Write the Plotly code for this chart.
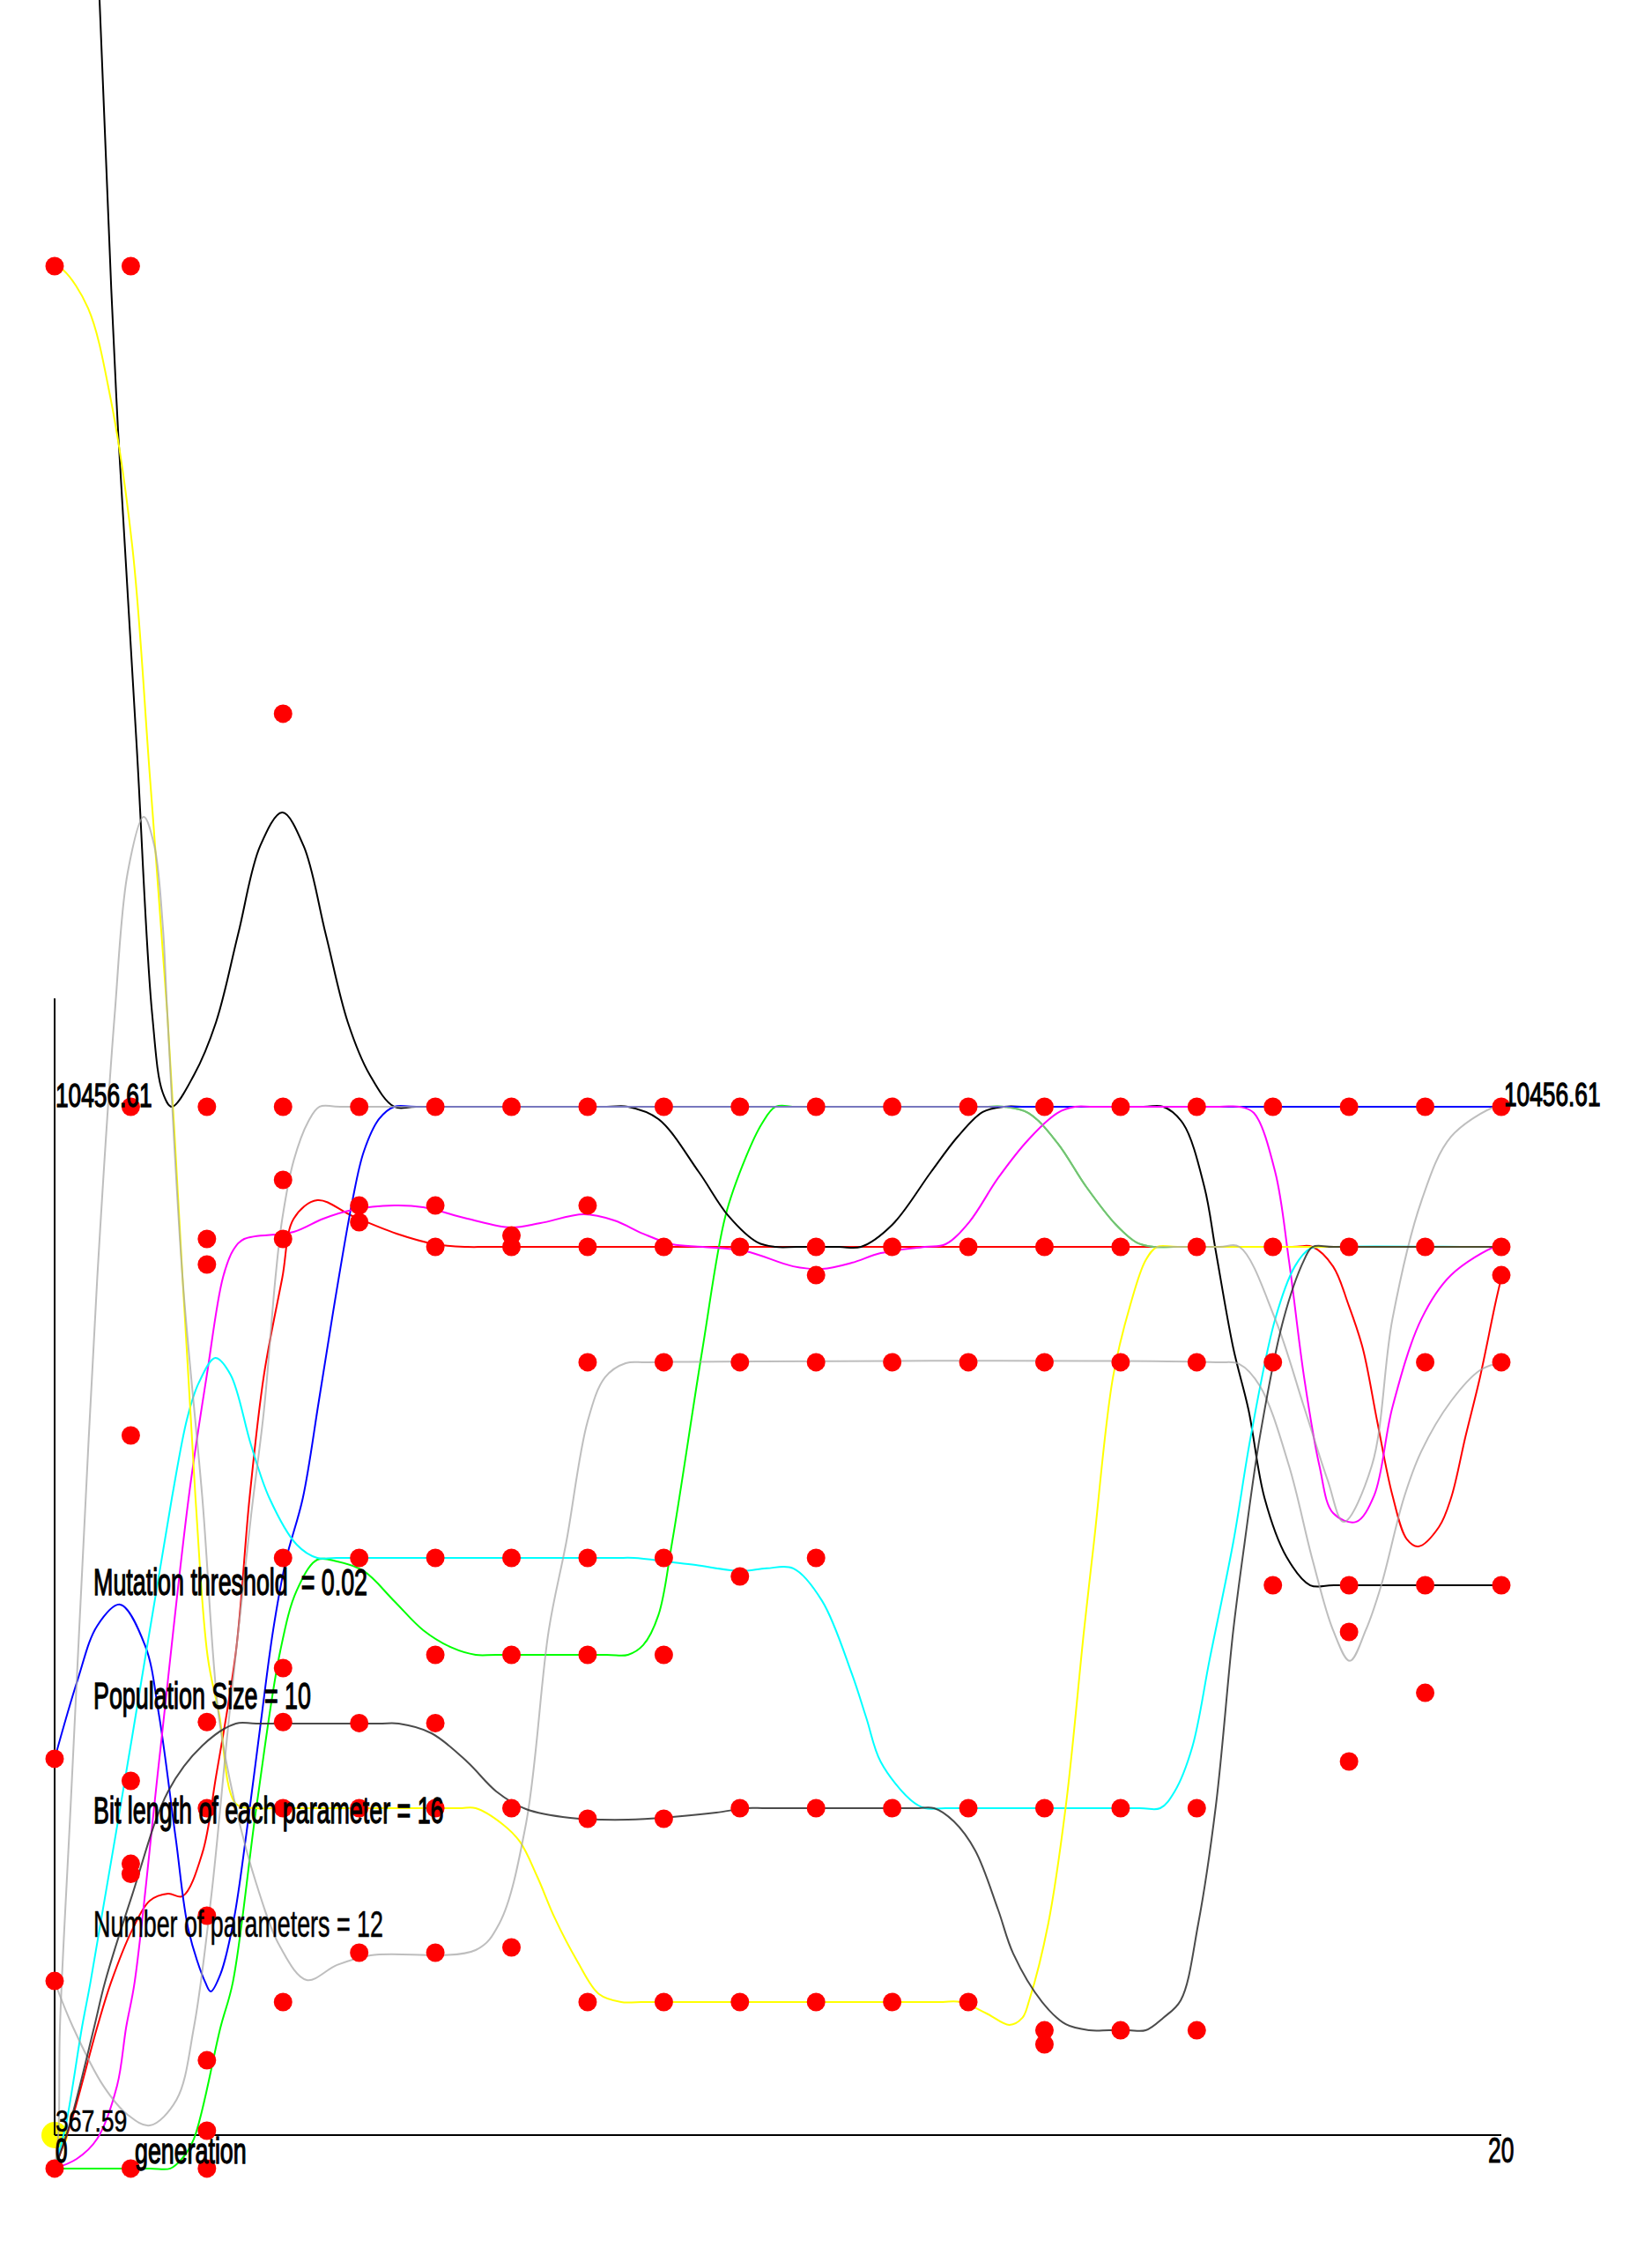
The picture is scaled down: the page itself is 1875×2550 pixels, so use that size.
import plotly.graph_objects as go

# ---------------- data ----------------
fit_max_label = 10456.61
fit_min_label = 367.59
y_axis_top = 11520
last_gen_index = 19
x_labels = ["0", "20"]
x_title = "generation"
info_lines = [
    "Mutation threshold\u00a0 = 0.02",
    "Population Size = 10",
    "Bit length of each parameter = 16",
    "Number of parameters = 12",
]

black_gen = [0, 0.59, 0.81, 1.08, 1.28, 1.42, 1.54, 1.83, 2.12, 2.41, 2.70, 2.99, 3.27, 3.56, 3.85, 4.14, 4.46, 4.75, 7.25, 7.53, 7.93, 8.46, 8.85, 9.23, 9.47, 9.75, 10.30, 10.59, 11.00, 11.51, 11.86, 12.19, 12.47, 12.75, 14.30, 14.56, 14.82, 15.10, 15.25, 15.48, 15.68, 15.89, 16.18, 16.49, 16.80, 18.70, 19]
black_fit = [32550, 21315, 17425, 13967, 11373, 10595, 10457, 10768, 11287, 12151, 13016, 13344, 13016, 12151, 11287, 10768, 10457, 10457, 10457, 10457, 10336, 9817, 9385, 9126, 9082, 9082, 9082, 9082, 9298, 9817, 10163, 10405, 10457, 10457, 10457, 10457, 10292, 9670, 9039, 8088, 7483, 6618, 6039, 5762, 5762, 5762, 5762]

yellow_gen = [0, 0.12, 0.44, 0.73, 1.02, 1.25, 1.48, 1.68, 1.85, 2.01, 2.16, 2.38, 2.64, 2.90, 5.30, 5.53, 5.88, 6.11, 6.34, 6.57, 6.86, 7.15, 7.44, 7.70, 11.60, 11.90, 12.24, 12.54, 12.71, 12.80, 13.05, 13.28, 13.52, 13.65, 13.90, 14.13, 14.33, 14.48, 14.75, 18.70, 19]
yellow_fit = [18704, 18661, 18290, 17425, 15955, 13707, 11373, 8779, 6618, 5062, 4500, 3618, 3575, 3575, 3575, 3575, 3420, 3247, 2901, 2495, 2080, 1751, 1673, 1673, 1673, 1673, 1561, 1449, 1518, 1691, 2443, 3593, 5322, 6186, 7803, 8520, 8953, 9082, 9082, 9082, 9082]

blue_gen = [0, 0.30, 0.56, 0.86, 1.19, 1.37, 1.59, 1.76, 1.98, 2.05, 2.18, 2.35, 2.52, 2.70, 2.87, 3.04, 3.26, 3.47, 3.68, 3.91, 4.06, 4.26, 4.46, 4.75, 18.70, 19]
blue_fit = [4060, 4829, 5365, 5573, 5167, 4492, 3282, 2374, 1864, 1777, 1951, 2469, 3334, 4371, 5322, 6014, 6618, 7569, 8546, 9531, 10016, 10336, 10457, 10457, 10457, 10457]

cyan_gen = [0, 0.15, 0.36, 0.47, 1.02, 1.54, 1.74, 1.89, 2.11, 2.31, 2.58, 2.82, 3.18, 3.45, 3.70, 7.35, 7.61, 8.08, 8.42, 9.00, 9.35, 9.70, 10.08, 10.47, 10.66, 10.85, 11.24, 11.43, 11.70, 14.25, 14.52, 14.71, 14.94, 15.17, 15.48, 15.71, 16.03, 16.29, 16.49, 16.75, 18.70, 19]
cyan_fit = [40, 478, 1429, 1864, 4284, 6618, 7397, 7743, 7993, 7829, 7137, 6618, 6160, 6030, 6030, 6030, 6030, 5990, 5961, 5902, 5928, 5928, 5608, 4894, 4461, 4029, 3657, 3575, 3575, 3575, 3575, 3740, 4172, 5037, 6186, 7224, 8374, 8893, 9065, 9082, 9082, 9082]

magenta_gen = [0, 0.29, 0.56, 0.82, 0.94, 1.05, 1.37, 1.76, 2.00, 2.21, 2.35, 2.49, 3.14, 3.53, 3.91, 4.46, 4.84, 5.42, 5.99, 6.38, 6.95, 7.35, 7.73, 8.11, 8.51, 9.08, 9.70, 10.08, 10.47, 10.85, 11.43, 11.70, 12.01, 12.39, 12.79, 13.17, 13.40, 13.65, 15.30, 15.56, 15.75, 16.03, 16.21, 16.41, 16.61, 16.79, 17.09, 17.33, 17.57, 17.95, 18.34, 18.92, 19]
magenta_fit = [40, 134, 333, 852, 1429, 1864, 4023, 6618, 7829, 8779, 9056, 9160, 9229, 9359, 9445, 9488, 9471, 9359, 9272, 9315, 9401, 9341, 9211, 9108, 9082, 9039, 8891, 8865, 8926, 9021, 9082, 9108, 9324, 9757, 10135, 10396, 10457, 10457, 10457, 10457, 10396, 9817, 8953, 7802, 6938, 6471, 6384, 6644, 7509, 8374, 8805, 9082, 9082]

red_gen = [0, 0.21, 0.56, 0.74, 1.02, 1.25, 1.49, 1.68, 1.94, 2.12, 2.38, 2.56, 2.75, 2.99, 3.14, 3.45, 3.91, 4.49, 5.00, 5.42, 5.70, 16.25, 16.52, 16.79, 16.99, 17.18, 17.37, 17.57, 17.76, 17.91, 18.18, 18.34, 18.53, 18.72, 18.92, 19]
red_fit = [40, 478, 1429, 1864, 2383, 2668, 2737, 2711, 3135, 3887, 5106, 6618, 7829, 8779, 9359, 9540, 9385, 9212, 9108, 9082, 9082, 9082, 9082, 8891, 8520, 8088, 7370, 6644, 6212, 6143, 6333, 6618, 7224, 7803, 8520, 8779]

dgrey_gen = [0, 0.19, 0.52, 0.66, 1.02, 1.49, 1.94, 2.38, 2.65, 4.25, 4.52, 4.95, 5.42, 5.80, 6.19, 6.77, 7.53, 8.11, 8.69, 9.08, 9.35, 11.30, 11.55, 11.81, 12.09, 12.39, 12.59, 12.97, 13.28, 13.59, 13.85, 14.10, 14.33, 14.56, 14.79, 15.02, 15.25, 15.48, 15.63, 15.83, 16.14, 16.41, 16.52, 16.80, 18.70, 19]
dgrey_fit = [40, 453, 1429, 1864, 2727, 3740, 4189, 4405, 4405, 4405, 4405, 4310, 4029, 3740, 3566, 3480, 3462, 3488, 3531, 3575, 3575, 3575, 3575, 3445, 3160, 2581, 2148, 1673, 1455, 1396, 1396, 1396, 1396, 1518, 1691, 2443, 3593, 5322, 6186, 7224, 8374, 8953, 9082, 9082, 9082, 9082]

green_gen = [0, 0.30, 1.25, 1.52, 1.67, 1.83, 2.18, 2.34, 2.65, 2.96, 3.18, 3.45, 3.71, 4.06, 4.46, 4.84, 5.22, 5.53, 5.80, 7.25, 7.53, 7.73, 7.93, 8.11, 8.51, 8.81, 9.08, 9.29, 9.47, 9.75, 12.20, 12.47, 12.79, 13.17, 13.55, 13.94, 14.21, 14.44, 14.70, 18.70, 19]
green_fit = [40, 40, 40, 40, 134, 333, 1429, 1864, 3584, 5106, 5711, 6013, 5996, 5901, 5607, 5322, 5149, 5080, 5080, 5080, 5080, 5175, 5469, 6186, 8088, 9385, 9964, 10292, 10457, 10457, 10457, 10457, 10396, 10102, 9670, 9298, 9125, 9082, 9082, 9082, 9082]

grey1_gen = [0, 0.05, 0.07, 0.21, 0.38, 0.56, 0.79, 0.96, 1.17, 1.31, 1.42, 1.48, 1.68, 1.94, 2.16, 2.38, 2.65, 2.96, 3.31, 3.71, 4.15, 5.53, 5.84, 6.19, 6.49, 6.72, 7.00, 7.23, 7.50, 7.80, 15.25, 15.56, 15.83, 16.21, 16.52, 16.79, 17.01, 17.22, 17.42, 17.72, 17.95, 18.34, 18.72, 19]
grey1_fit = [40, 393, 1429, 3592, 6186, 8779, 11373, 12756, 13300, 13015, 12238, 11373, 8779, 6618, 4456, 3584, 2832, 2218, 1890, 2037, 2132, 2183, 2443, 3420, 5322, 6186, 7371, 7803, 7941, 7950, 7950, 7932, 7717, 6938, 6013, 5322, 5020, 5322, 5754, 6618, 7077, 7569, 7872, 7950]

grey2_gen = [0, 0.24, 0.64, 0.96, 1.25, 1.60, 1.83, 2.06, 2.29, 2.58, 2.75, 2.90, 2.99, 3.14, 3.33, 3.48, 3.75, 12.20, 12.47, 12.79, 13.17, 13.55, 13.94, 14.21, 14.44, 14.70, 15.30, 15.56, 16.03, 16.41, 16.72, 16.93, 17.30, 17.57, 17.95, 18.34, 18.92, 19]
grey2_fit = [1872, 1429, 851, 567, 462, 713, 1429, 2728, 4456, 6446, 7483, 8779, 9359, 9929, 10310, 10457, 10457, 10457, 10457, 10396, 10102, 9670, 9298, 9125, 9082, 9082, 9082, 9082, 8374, 7509, 6791, 6384, 6938, 8374, 9531, 10163, 10457, 10457]

# fitness of the population members, one list per generation 0..19
population_fitness = [
    [18704, 4060, 1880, 40],
    [18704, 10457, 7232, 3843, 3030, 2930, 40],
    [10457, 9160, 8909, 4420, 3575, 2520, 1102, 411, 40],
    [14313, 10457, 9739, 9160, 6030, 4950, 4420, 3575, 1673],
    [10457, 9488, 9324, 6030, 4410, 3575, 2157],
    [10457, 9488, 9082, 6030, 5079, 4410, 3575, 2157],
    [10457, 9194, 9082, 6030, 5079, 3575, 2209],
    [10457, 9488, 9082, 7950, 6030, 5079, 3471, 1673],
    [10457, 9082, 7950, 6030, 5079, 3471, 1673],
    [10457, 9082, 7950, 5849, 3575, 1673],
    [10457, 9082, 8805, 7950, 6030, 3575, 1673],
    [10457, 9082, 7950, 3575, 1673],
    [10457, 9082, 7950, 3575, 1673],
    [10457, 9082, 7950, 3575, 1396, 1258],
    [10457, 9082, 7950, 3575, 1396],
    [10457, 9082, 7950, 3575, 1396],
    [10457, 9082, 7950, 5762],
    [10457, 9082, 5762, 5304, 4033],
    [10457, 9082, 7950, 5762, 4707],
    [10457, 9082, 8805, 7950, 5762],
]

# ---------------- figure ----------------
W, H = 1875, 2550
X_RANGE = [-0.71743, 20.9789]
Y_RANGE = [-730.3, 21315.2]

fig = go.Figure()

# origin marker (drawn below the axis lines)
fig.add_trace(go.Scatter(x=[0], y=[fit_min_label], mode="markers",
                         marker=dict(color="#ffff00", size=30, line=dict(width=0)),
                         hoverinfo="skip"))
# axis lines
fig.add_trace(go.Scatter(x=[0, 0], y=[fit_min_label, y_axis_top], mode="lines",
                         line=dict(color="black", width=2), hoverinfo="skip"))
fig.add_trace(go.Scatter(x=[0, last_gen_index], y=[fit_min_label, fit_min_label], mode="lines",
                         line=dict(color="black", width=2), hoverinfo="skip"))

curves = [
    (red_gen, red_fit, "#ff0000"),
    (green_gen, green_fit, "#00ff00"),
    (black_gen, black_fit, "#000000"),
    (blue_gen, blue_fit, "#0000ff"),
    (magenta_gen, magenta_fit, "#ff00ff"),
    (cyan_gen, cyan_fit, "#00ffff"),
    (yellow_gen, yellow_fit, "#ffff00"),
    (grey1_gen, grey1_fit, "rgba(165,165,165,0.72)"),
    (grey2_gen, grey2_fit, "rgba(165,165,165,0.72)"),
    (dgrey_gen, dgrey_fit, "rgba(50,50,50,0.88)"),
]
for gx, gy, col in curves:
    fig.add_trace(go.Scatter(x=gx, y=gy, mode="lines",
                             line=dict(color=col, width=2, shape="spline", smoothing=1.0),
                             hoverinfo="skip"))

dot_x = [g for g, fits in enumerate(population_fitness) for _ in fits]
dot_y = [v for fits in population_fitness for v in fits]
fig.add_trace(go.Scatter(x=dot_x, y=dot_y, mode="markers",
                         marker=dict(color="#ff0000", size=21, line=dict(width=0)),
                         hoverinfo="skip"))

FONT = "Liberation Sans, Arial, sans-serif"
squeeze_x = []
stroke_w = []


def px(xp):
    return xp / W


def py(yp):
    return 1 - yp / H


def label(text, x_left, y_center, size, sx, heavy):
    fig.add_annotation(text=text, x=px(x_left), y=py(y_center), xref="paper", yref="paper",
                       xanchor="left", yanchor="middle", showarrow=False, borderpad=0,
                       font=dict(family=FONT, size=size, color="black"))
    squeeze_x.append(sx)
    stroke_w.append(heavy)


label(f"{fit_max_label:.2f}", 62, 1243, 37, 0.71, 1.3)
label(f"{fit_max_label:.2f}", 1706, 1242, 37, 0.71, 1.3)
label(f"{fit_min_label:.2f}", 62, 2406, 35, 0.76, 0.6)
label(x_labels[0], 62, 2440, 39, 0.62, 1.6)
label(x_title, 152, 2441, 40, 0.67, 1.3)
label(x_labels[1], 1688, 2440, 40, 0.66, 1.0)
info_heavy = [1.3, 1.3, 1.3, 0.6]
for i, t in enumerate(info_lines):
    label(t, 105, 1795 + 129.3 * i, 43, 0.624, info_heavy[i])

fig.update_layout(
    width=W, height=H, autosize=False,
    margin=dict(l=0, r=0, t=0, b=0, pad=0),
    paper_bgcolor="white", plot_bgcolor="white",
    showlegend=False,
    xaxis=dict(range=X_RANGE, visible=False, showgrid=False, zeroline=False, fixedrange=True),
    yaxis=dict(range=Y_RANGE, visible=False, showgrid=False, zeroline=False, fixedrange=True),
)

# condensed look of the original lettering: squeeze the real SVG text horizontally
post_js = """
var gd = document.getElementById('{plot_id}');
var SX = __SX__;
var SW = __SW__;
function squeeze() {
  var groups = gd.querySelectorAll('g.annotation');
  groups.forEach(function (g) {
    var i = parseInt(g.getAttribute('data-index'), 10);
    var t = g.querySelector('text.annotation-text');
    if (!t || isNaN(i)) { return; }
    t.style.transformBox = 'fill-box';
    t.style.transformOrigin = '0% 50%';
    t.style.transform = 'scaleX(' + SX[i] + ')';
    if (SW[i] > 0) { t.style.stroke = '#000'; t.style.strokeWidth = SW[i] + 'px'; }
  });
}
squeeze();
setTimeout(squeeze, 50);
setTimeout(squeeze, 400);
if (gd.on) { gd.on('plotly_afterplot', squeeze); }
"""
post_js = post_js.replace("__SX__", str(squeeze_x)).replace("__SW__", str(stroke_w))

fig.write_html("out.html", post_script=post_js)
